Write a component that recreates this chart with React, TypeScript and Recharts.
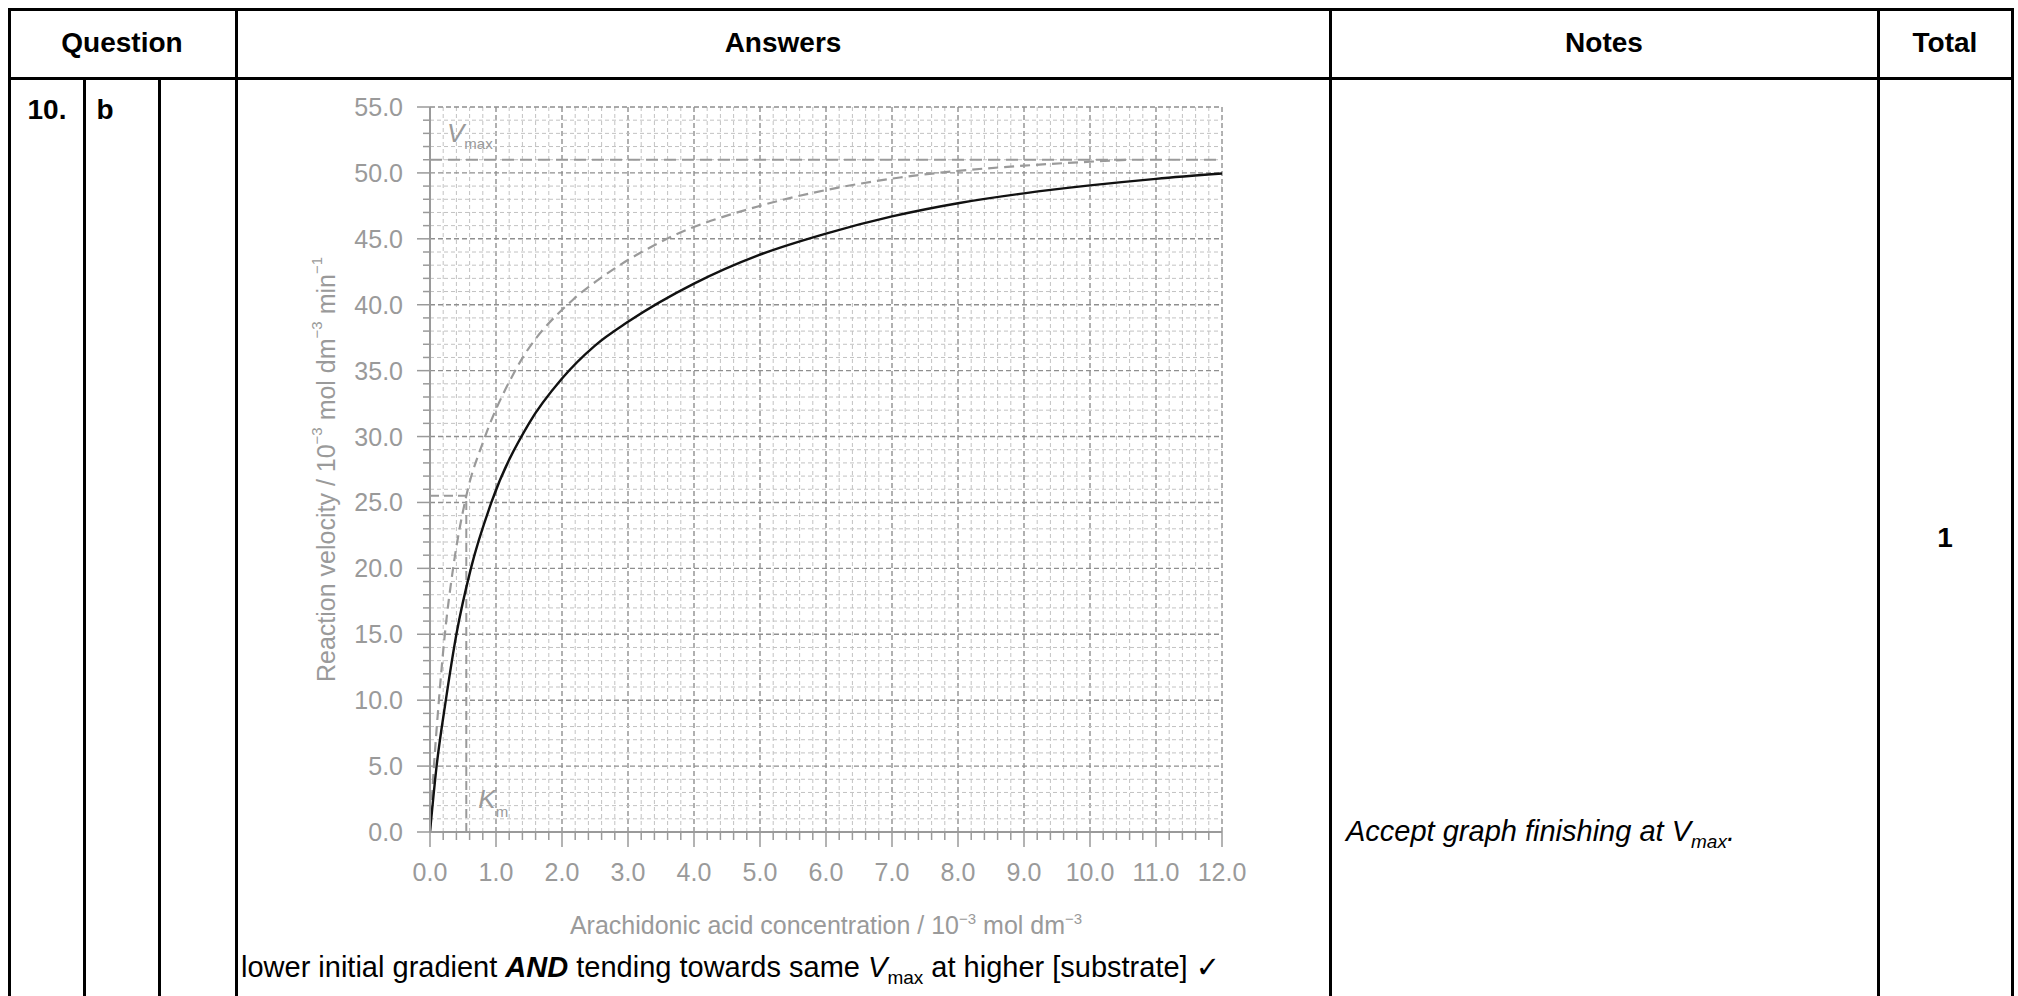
import React from "react"
import { LineChart, Line, XAxis, YAxis, ReferenceLine } from "recharts"

const VMAX = 51
const KM = 0.55

const inhibitedX = [0, 0.1, 0.24, 0.4, 0.62, 0.93, 1.5, 2.0, 2.5, 3.0, 4.0, 5.0, 6.0, 7.0, 8.0, 9.0, 10.0, 11.0, 12.0]
const inhibitedY = [0, 5, 10, 15, 20, 25, 31, 34.4, 36.9, 38.7, 41.6, 43.8, 45.4, 46.7, 47.7, 48.45, 49.05, 49.55, 49.95]

const normalX = [0, 0.06, 0.135, 0.225, 0.35, 0.55, 0.82, 1.28, 2.17, 2.58, 3.59, 5.0, 6.0, 7.12, 8.0, 9.0, 10.0, 10.6]
const normalY = [0, 5, 10, 15, 20, 25.5, 29.8, 34.9, 40.4, 42.0, 45.0, 47.5, 48.7, 49.65, 50.15, 50.55, 50.85, 51.0]

const xTicks = Array.from({ length: 61 }, (_, i) => Math.round(i * 2) / 10)
const yTicks = Array.from({ length: 56 }, (_, i) => i)

const inhibited = inhibitedX.map((x, i) => ({ x, y: inhibitedY[i] }))
const normal = normalX.map((x, i) => ({ x, y: normalY[i] }))

const GREY = "#9a9a9a"
const FONT = "'Liberation Sans', Arial, sans-serif"

const isWhole = (v: number) => Math.abs(v - Math.round(v)) < 1e-6

function XTick(props: any) {
  const { x, y, payload } = props
  const v = payload.value
  const major = isWhole(v)
  return (
    <g>
      <line x1={x} x2={x} y1={y} y2={y + (major ? 15 : 8)} stroke={GREY} strokeWidth={1.5} />
      {major && (
        <text x={x} y={y + 49} textAnchor="middle" fill={GREY} fontSize={25} fontFamily={FONT}>
          {v.toFixed(1)}
        </text>
      )}
    </g>
  )
}

function YTick(props: any) {
  const { x, y, payload } = props
  const v = payload.value
  const major = v % 5 === 0
  return (
    <g>
      <line x1={x - (major ? 13 : 7)} x2={x} y1={y} y2={y} stroke={GREY} strokeWidth={1.5} />
      {major && (
        <text x={x - 27} y={y + 9} textAnchor="end" fill={GREY} fontSize={25} fontFamily={FONT}>
          {v.toFixed(1)}
        </text>
      )}
    </g>
  )
}

function XTitle(props: any) {
  const vb = props.viewBox
  return (
    <text x={vb.x + vb.width / 2} y={vb.y + 102} textAnchor="middle" fill={GREY} fontSize={25} fontFamily={FONT}>
      Arachidonic acid concentration / 10
      <tspan fontSize={15} dy={-10}>−3</tspan>
      <tspan dy={10}> mol dm</tspan>
      <tspan fontSize={15} dy={-10}>−3</tspan>
    </text>
  )
}

function YTitle(props: any) {
  const vb = props.viewBox
  const cx = vb.x - 4
  const cy = vb.y + vb.height / 2
  return (
    <text x={cx} y={cy} transform={`rotate(-90 ${cx} ${cy})`} textAnchor="middle" dominantBaseline="central" fill={GREY} fontSize={25} fontFamily={FONT}>
      Reaction velocity / 10
      <tspan fontSize={15} dy={-10}>−3</tspan>
      <tspan dy={10}> mol dm</tspan>
      <tspan fontSize={15} dy={-10}>−3</tspan>
      <tspan dy={10}> min</tspan>
      <tspan fontSize={15} dy={-10}>−1</tspan>
    </text>
  )
}

function VmaxLabel(props: any) {
  const vb = props.viewBox
  return (
    <text x={vb.x + 17} y={vb.y - 18} fill={GREY} fontFamily={FONT}>
      <tspan fontSize={26} fontStyle="italic">V</tspan>
      <tspan fontSize={15} dy={7}>max</tspan>
    </text>
  )
}

function KmLabel(props: any) {
  const vb = props.viewBox
  return (
    <text x={vb.x + 12} y={vb.y + vb.height - 24} fill={GREY} fontFamily={FONT}>
      <tspan fontSize={26} fontStyle="italic">K</tspan>
      <tspan fontSize={15} dy={9}>m</tspan>
    </text>
  )
}

function Rule({ x, y, w, h }: { x: number; y: number; w: number; h: number }) {
  return <div style={{ position: "absolute", left: x, top: y, width: w, height: h, background: "#000" }} />
}

function Cell({ x, y, children, style }: any) {
  return (
    <div style={{ position: "absolute", left: x, top: y, transform: "translate(-50%, -50%)", whiteSpace: "nowrap", ...style }}>
      {children}
    </div>
  )
}

export default function App() {
  const vLines = [9, 1330, 1878, 2012, 236]
  return (
    <div style={{ position: "absolute", left: 0, top: 0, width: 2018, height: 996, overflow: "hidden", background: "#fff", fontFamily: FONT, color: "#000" }}>
      <Rule x={8} y={8} w={2006} h={3} />
      <Rule x={8} y={77} w={2006} h={3} />
      {vLines.map((c) => (
        <Rule key={c} x={c - 1.5} y={8} w={3} h={988} />
      ))}
      <Rule x={82.5} y={77} w={3} h={919} />
      <Rule x={157.5} y={77} w={3} h={919} />

      <Cell x={122} y={43} style={{ fontWeight: 700, fontSize: 28 }}>Question</Cell>
      <Cell x={783} y={43} style={{ fontWeight: 700, fontSize: 28 }}>Answers</Cell>
      <Cell x={1604} y={43} style={{ fontWeight: 700, fontSize: 28 }}>Notes</Cell>
      <Cell x={1945} y={43} style={{ fontWeight: 700, fontSize: 28 }}>Total</Cell>
      <Cell x={47} y={110} style={{ fontWeight: 700, fontSize: 28 }}>10.</Cell>
      <Cell x={105} y={110} style={{ fontWeight: 700, fontSize: 28 }}>b</Cell>
      <Cell x={1945} y={538} style={{ fontWeight: 700, fontSize: 28 }}>1</Cell>

      <div style={{ position: "absolute", left: 1346, top: 815, fontSize: 29, fontStyle: "italic", whiteSpace: "nowrap" }}>
        Accept graph finishing at V<sub style={{ fontSize: 19 }}>max</sub>.
      </div>

      <div style={{ position: "absolute", left: 241, top: 950, fontSize: 29, whiteSpace: "nowrap" }}>
        lower initial gradient <b><i>AND</i></b> tending towards same <i>V</i>
        <sub style={{ fontSize: 19 }}>max</sub> at higher [substrate] <span style={{ fontFamily: "'DejaVu Sans'", fontWeight: 700 }}>✓</span>
      </div>

      <div style={{ position: "absolute", left: 240, top: 80 }}>
        <LineChart width={1080} height={900} margin={{ top: 27, right: 98, bottom: 48, left: 90 }}>
          <XAxis
            dataKey="x"
            type="number"
            domain={[0, 12]}
            ticks={xTicks}
            interval={0}
            tickSize={0}
            tickMargin={0}
            tickLine={false}
            tick={<XTick />}
            height={100}
            axisLine={{ stroke: GREY, strokeWidth: 2 }}
            allowDataOverflow
            label={{ content: <XTitle /> }}
          />
          <YAxis
            dataKey="y"
            type="number"
            domain={[0, 55]}
            ticks={yTicks}
            interval={0}
            tickSize={0}
            tickMargin={0}
            tickLine={false}
            tick={<YTick />}
            width={100}
            axisLine={{ stroke: GREY, strokeWidth: 2 }}
            allowDataOverflow
            label={{ content: <YTitle /> }}
          />
          {xTicks.slice(1).map((v) => (
            <ReferenceLine
              key={`gx${v}`}
              x={v}
              stroke={isWhole(v) ? "#8f8f8f" : "#c2c2c2"}
              strokeWidth={isWhole(v) ? 1.4 : 1}
              strokeDasharray={isWhole(v) ? "5 3" : "4 3"}
            />
          ))}
          {yTicks.slice(1).map((v) => (
            <ReferenceLine
              key={`gy${v}`}
              y={v}
              stroke={v % 5 === 0 ? "#8f8f8f" : "#c2c2c2"}
              strokeWidth={v % 5 === 0 ? 1.4 : 1}
              strokeDasharray={v % 5 === 0 ? "5 3" : "4 3"}
            />
          ))}
          <ReferenceLine y={VMAX} stroke={GREY} strokeWidth={2} strokeDasharray="12 6" label={{ content: <VmaxLabel /> }} />
          <ReferenceLine
            segment={[{ x: KM, y: 0 }, { x: KM, y: VMAX / 2 }]}
            stroke={GREY}
            strokeWidth={2}
            strokeDasharray="9 5"
            label={{ content: <KmLabel /> }}
          />
          <ReferenceLine segment={[{ x: 0, y: VMAX / 2 }, { x: KM, y: VMAX / 2 }]} stroke={GREY} strokeWidth={2} strokeDasharray="9 5" />
          <Line data={normal} dataKey="y" type="monotone" stroke={GREY} strokeWidth={2.2} strokeDasharray="10 6" dot={false} isAnimationActive={false} />
          <Line data={inhibited} dataKey="y" type="monotone" stroke="#111" strokeWidth={2.4} dot={false} isAnimationActive={false} />
        </LineChart>
      </div>
    </div>
  )
}
